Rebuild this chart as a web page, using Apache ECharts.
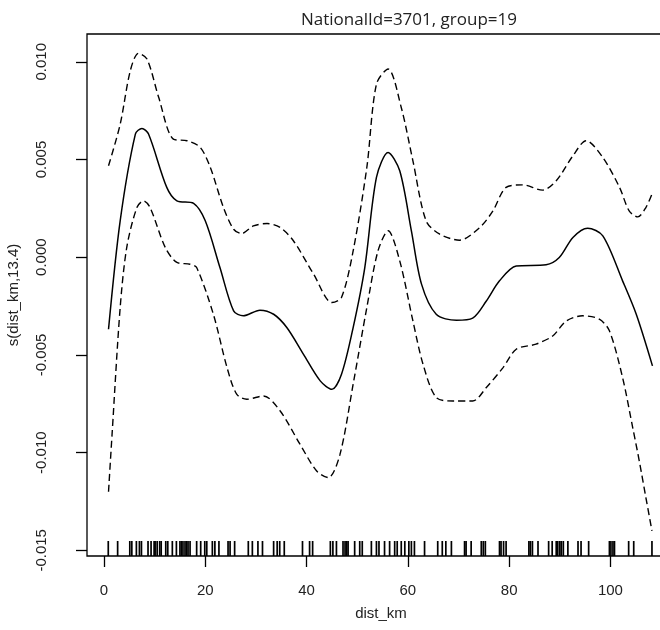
<!DOCTYPE html>
<html>
<head>
<meta charset="utf-8">
<script src="https://cdn.jsdelivr.net/npm/echarts@6/dist/echarts.min.js"></script>
<style>
	html, body { margin: 0; padding: 0; background: #fff; }
	#chart { width: 660px; height: 630px; }
</style>
</head>
<body>
<div id="chart"></div>
<script>
// 坐标轴刻度
let x_ticks = [0, 20, 40, 60, 80, 100];
let y_ticks = [-0.015, -0.01, -0.005, 0, 0.005, 0.01];
// 平滑项 s(dist_km)
let fit_x = [0.9, 3.2, 6.2, 7.5, 8.8, 12.4, 14.4, 17.7, 20.0, 22.9, 25.6, 27.5, 30.8, 33.5, 36.1, 39.4, 42.7, 45.0, 46.9, 49.2, 51.5, 53.8, 56.1, 58.4, 60.7, 62.7, 65.6, 69.6, 72.8, 75.5, 78.1, 81.4, 87.3, 89.9, 92.6, 95.5, 98.5, 102.4, 105.1, 108.3];
let fit_y = [-0.00369, 0.00186, 0.0063, 0.00659, 0.0063, 0.00357, 0.00288, 0.00275, 0.00186, -0.00053, -0.00275, -0.003, -0.00271, -0.00292, -0.0036, -0.00497, -0.00633, -0.00676, -0.00599, -0.0036, -0.00053, 0.00408, 0.00536, 0.00442, 0.00135, -0.00138, -0.00292, -0.00323, -0.00312, -0.00224, -0.00121, -0.00045, -0.00039, -0.00002, 0.00101, 0.00148, 0.00109, -0.00121, -0.00292, -0.00556];
// 置信带上界
let upper_x = [0.9, 3.2, 5.2, 6.8, 8.5, 10.8, 13.7, 16.4, 19.0, 21.0, 23.6, 25.6, 27.2, 29.5, 32.2, 34.8, 37.4, 41.4, 45.0, 46.9, 49.2, 51.9, 53.8, 56.1, 58.7, 61.0, 63.6, 66.3, 70.2, 74.2, 76.8, 79.4, 82.7, 86.6, 89.3, 92.6, 95.2, 98.5, 101.8, 103.7, 105.4, 107.0, 108.2];
let upper_y = [0.00468, 0.0068, 0.00954, 0.01043, 0.01014, 0.00818, 0.00604, 0.00596, 0.00562, 0.00459, 0.00254, 0.00143, 0.00121, 0.0016, 0.00172, 0.00152, 0.00084, -0.00087, -0.00232, -0.00206, 0.00032, 0.00459, 0.00886, 0.00963, 0.00766, 0.00493, 0.00186, 0.00118, 0.00087, 0.00152, 0.00237, 0.00357, 0.0037, 0.00343, 0.00391, 0.00519, 0.00596, 0.0051, 0.00357, 0.00237, 0.00206, 0.00254, 0.00323];
// 置信带下界
let lower_x = [0.9, 1.6, 3.2, 4.5, 6.5, 7.8, 9.1, 12.1, 14.4, 17.0, 18.3, 21.6, 24.3, 26.2, 28.2, 31.5, 34.8, 38.7, 42.0, 44.3, 46.6, 49.2, 51.9, 54.1, 56.1, 58.4, 61.0, 63.0, 65.6, 68.9, 72.8, 75.5, 78.8, 81.4, 85.3, 88.6, 91.3, 94.5, 97.8, 99.8, 102.4, 104.4, 105.7, 107.0, 108.2];
let lower_y = [-0.012, -0.00906, -0.00258, 0.0005, 0.00254, 0.00288, 0.00254, 0.0005, -0.00027, -0.00036, -0.00053, -0.00292, -0.00565, -0.00701, -0.00727, -0.0071, -0.00787, -0.00957, -0.01094, -0.01128, -0.01009, -0.0065, -0.00258, 0.00032, 0.00135, -0.00019, -0.00326, -0.00548, -0.00718, -0.00736, -0.00736, -0.00667, -0.00565, -0.00471, -0.00445, -0.00403, -0.00326, -0.003, -0.00317, -0.00377, -0.00616, -0.00872, -0.01043, -0.0123, -0.014];
// 地毯图(观测点位置)
let rug = [0.85, 2.7, 5.1, 5.5, 6.4, 7.0, 7.4, 8.7, 9.3, 9.9, 10.1, 10.5, 11.0, 11.3, 12.2, 12.6, 13.5, 14.3, 15.0, 15.3, 15.6, 16.0, 16.3, 16.6, 17.0, 18.3, 19.1, 19.9, 20.3, 21.4, 21.9, 22.7, 24.5, 24.9, 25.8, 28.5, 29.3, 30.4, 31.3, 33.5, 34.2, 34.7, 35.6, 39.2, 40.6, 41.2, 44.7, 45.2, 45.9, 47.2, 47.6, 47.9, 48.2, 49.5, 50.5, 51.0, 52.8, 53.8, 54.3, 55.4, 56.4, 57.4, 57.9, 58.7, 59.4, 60.2, 60.7, 61.3, 63.3, 65.9, 66.8, 67.5, 68.6, 71.2, 71.5, 72.5, 74.5, 74.9, 75.3, 78.1, 78.4, 78.9, 79.4, 83.9, 84.2, 84.6, 85.7, 87.8, 88.5, 89.3, 89.6, 90.0, 90.3, 90.7, 91.6, 93.6, 94.2, 95.7, 99.8, 100.1, 100.5, 100.8, 103.6, 104.6, 108.2];

let y_min = -0.01529;
let y_max = 0.01142;
let font = 'Liberation Sans, Arial, sans-serif';

let chart = echarts.init(document.getElementById('chart'));

let pair = (xs, ys) => xs.map((v, i) => [v, ys[i]]);

let option = {
	animation: false,
	backgroundColor: '#fff',
	title: {
		text: 'NationalId=3701, group=19',
		left: 404,
		top: 7,
		textAlign: 'center',
		textStyle: { fontFamily: 'Open Sans, Lato, sans-serif', fontSize: 17, fontWeight: 'normal', color: '#222' },
	},
	grid: {
		left: 87,
		top: 34,
		bottom: 74,
		right: -15,
		outerBoundsMode: 'none',
		show: true,
		borderColor: '#000',
		borderWidth: 1.3,
	},
	xAxis: {
		type: 'value',
		min: -3.35,
		max: 112.75,
		name: 'dist_km',
		nameLocation: 'middle',
		nameGap: 50,
		nameTextStyle: { fontFamily: font, fontSize: 15, color: '#222' },
		splitLine: { show: false },
		axisLine: { show: false, onZero: false },
		axisTick: { show: true, inside: false, length: 11, lineStyle: { color: '#000', width: 1.3 }, customValues: x_ticks },
		axisLabel: { margin: 27, fontFamily: font, fontSize: 15, color: '#222', customValues: x_ticks, formatter: (v) => String(v) },
	},
	yAxis: {
		type: 'value',
		min: y_min,
		max: y_max,
		name: 's(dist_km,13.4)',
		nameLocation: 'middle',
		nameGap: 66,
		nameTextStyle: { fontFamily: font, fontSize: 15, color: '#222' },
		splitLine: { show: false },
		axisLine: { show: false, onZero: false },
		axisTick: { show: true, inside: false, length: 11, lineStyle: { color: '#000', width: 1.3 }, customValues: y_ticks },
		axisLabel: { rotate: 90, margin: 38, fontFamily: font, fontSize: 15, color: '#222', customValues: y_ticks, formatter: (v) => v.toFixed(3) },
	},
	series: [
		{
			type: 'line',
			data: pair(fit_x, fit_y),
			smooth: 0.3,
			symbol: 'none',
			lineStyle: { color: '#000', width: 1.5 },
		},
		{
			type: 'line',
			data: pair(upper_x, upper_y),
			smooth: 0.3,
			symbol: 'none',
			lineStyle: { color: '#000', width: 1.4, type: [7, 4] },
		},
		{
			type: 'line',
			data: pair(lower_x, lower_y),
			smooth: 0.3,
			symbol: 'none',
			lineStyle: { color: '#000', width: 1.4, type: [7, 4] },
		},
		{
			// 地毯图
			type: 'custom',
			data: rug.map((v) => [v, y_min]),
			renderItem: (params, api) => {
				let p = api.coord([api.value(0), api.value(1)]);
				return {
					type: 'line',
					shape: { x1: p[0], y1: p[1], x2: p[0], y2: p[1] - 15 },
					style: { stroke: '#000', lineWidth: 1.7 },
				};
			},
		},
	],
};
chart.setOption(option);
</script>
</body>
</html>
